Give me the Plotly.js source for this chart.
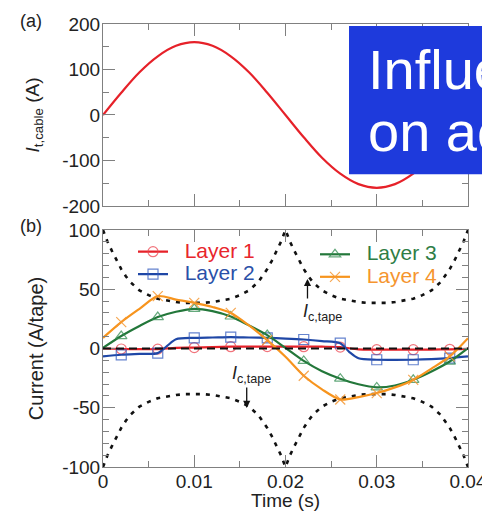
<!DOCTYPE html>
<html><head><meta charset="utf-8">
<script src="https://cdn.plot.ly/plotly-3.0.1.min.js"></script>
<style>html,body{margin:0;padding:0;background:#fff;overflow:hidden}#chart{width:482px;height:511px}</style>
</head><body><div id="chart"></div>
<script>
// ---------- data ----------
const cableTime = [0,0.002,0.004,0.006,0.008,0.01,0.012,0.014,0.016,0.018,0.02,0.022,0.024,0.026,0.028,0.03,0.032,0.034,0.036,0.038,0.04];
const cableCurrent = [0,49,94,129,152,160,152,129,94,49,0,-49,-94,-129,-152,-160,-152,-129,-94,-49,0];

const layerTime = [0,0.002,0.004,0.006,0.008,0.01,0.012,0.014,0.016,0.018,0.02,0.022,0.024,0.026,0.028,0.03,0.032,0.034,0.036,0.038,0.04];
const layer1 = [0,-0.4,-0.6,-0.5,0.6,0.8,1.2,1.5,1.6,1.6,1.6,1.5,1.5,1.2,-0.8,-1,-1,-1,-0.9,-0.7,-0.3];
const layer3 = [0.5,10.5,19,26.5,31,33.5,31.5,27,19.5,11.3,0.5,-10.5,-19.2,-25.5,-30.2,-32.8,-31.2,-26.4,-19.4,-11,0.3];
const layer4 = [9,22.3,33.5,44.2,41.3,38.5,35,30,19.5,7,-7,-23,-34.5,-43,-41,-37.6,-32.8,-26.5,-17,-6.7,8.7];
const layer2Time = [0,0.002,0.004,0.006,0.007,0.008,0.01,0.012,0.014,0.016,0.018,0.02,0.022,0.024,0.026,0.027,0.028,0.03,0.032,0.034,0.036,0.038,0.04];
const layer2 = [-6.7,-5.3,-4.6,-3.9,2,7.8,9,9.3,9.6,9.3,9,8.4,7.6,6.3,4.5,-3,-8.3,-9.5,-9.6,-9.5,-9,-8.1,-6.7];
const markerTime = [0.002,0.006,0.01,0.014,0.018,0.022,0.026,0.03,0.034,0.038];

const icTime = [0,0.0005,0.001,0.0015,0.002,0.0025,0.003,0.004,0.005,0.006,0.007,0.008,0.009,0.01,0.011,0.012,0.013,0.014,0.015,0.016,0.017,0.0175,0.018,0.0185,0.019,0.0195,0.02,
  0.0205,0.021,0.0215,0.022,0.0225,0.023,0.024,0.025,0.026,0.027,0.028,0.029,0.03,0.031,0.032,0.033,0.034,0.035,0.036,0.037,0.0375,0.038,0.0385,0.039,0.0395,0.04];
const icUpper = [100,90,82,74,67,61,56,49,45,42,40.3,39.2,38.5,38.3,38.5,39.2,40.3,42,45,49,56,61,67,74,82,90,100,
  90,82,74,67,61,56,49,45,42,40.3,39.2,38.5,38.3,38.5,39.2,40.3,42,45,49,56,61,67,74,82,90,100];
const icLower = [-100,-90,-82,-74,-67,-61,-56,-49,-45,-42,-40.3,-39.2,-38.5,-38.3,-38.5,-39.2,-40.3,-42,-45,-49,-56,-61,-67,-74,-82,-90,-100,
  -90,-82,-74,-67,-61,-56,-49,-45,-42,-40.3,-39.2,-38.5,-38.3,-38.5,-39.2,-40.3,-42,-45,-49,-56,-61,-67,-74,-82,-90,-100];

const xTickVals = [0,0.01,0.02,0.03,0.04];
const xTickText = ['0','0.01','0.02','0.03','0.04'];
const topTickVals = [-200,-100,0,100,200];
const topTickText = ['-200','-100','0','100','200'];
const botTickVals = [-100,-50,0,50,100];
const botTickText = ['-100','-50','0','50','100'];
const layerNames = ['Layer 1','Layer 2','Layer 3','Layer 4'];

// ---------- styles ----------
const FONT = 'Liberation Sans, Arial, sans-serif';
const AX = '#808080';
const TXT = '#222222';
const lineCol = ['#e62129','#1f47a6','#23773a','#f7941d'];
const markCol = ['rgba(236,70,80,0.75)','rgba(50,90,190,0.75)','rgba(50,140,80,0.75)','rgba(245,150,50,0.85)'];
const textCol = ['#e8262c','#2a50a8','#2e7d46','#f5952f'];
const symbols = ['circle-open','square-open','triangle-up-open','x-thin-open'];
const legendOf = ['legend','legend','legend2','legend2'];

function pick(ts, vs) {
  const xs = [], ys = [];
  ts.forEach((t, i) => {
    if (markerTime.some(m => Math.abs(m - t) < 1e-9)) { xs.push(t); ys.push(vs[i]); }
  });
  return {xs, ys};
}

const traces = [];
traces.push({x: cableTime, y: cableCurrent, xaxis:'x', yaxis:'y', mode:'lines',
  line:{color:'#e62129', width:2.2, shape:'spline', smoothing:1}, showlegend:false, hoverinfo:'skip'});
traces.push({x: icTime, y: icUpper, xaxis:'x2', yaxis:'y2', mode:'lines',
  line:{color:'#111', width:2.6, dash:'4px,6px'}, showlegend:false, hoverinfo:'skip'});
traces.push({x: icTime, y: icLower, xaxis:'x2', yaxis:'y2', mode:'lines',
  line:{color:'#111', width:2.6, dash:'4px,6px'}, showlegend:false, hoverinfo:'skip'});

const series = [[layerTime, layer1],[layer2Time, layer2],[layerTime, layer3],[layerTime, layer4]];
series.forEach(([ts, vs], k) => {
  traces.push({x: ts, y: vs, xaxis:'x2', yaxis:'y2', mode:'lines',
    line:{color:lineCol[k], width:2.2, shape:'spline', smoothing:0.8}, showlegend:false, hoverinfo:'skip'});
  const m = pick(ts, vs);
  traces.push({x: m.xs, y: m.ys, xaxis:'x2', yaxis:'y2', mode:'markers',
    marker:{symbol:symbols[k], size:10, color:markCol[k], line:{width:1.2, color:markCol[k]}},
    showlegend:false, hoverinfo:'skip'});
});
// legend entries
[0,1,2,3].forEach(k => {
  traces.push({x:[null], y:[null], xaxis:'x2', yaxis:'y2', mode:'lines+markers',
    name:'<span style="font-size:21px;color:' + textCol[k] + '">\u00a0\u00a0' + layerNames[k] + '</span>',
    legend: legendOf[k],
    line:{color:lineCol[k], width:2.2},
    marker:{symbol:symbols[k], size:10, color:markCol[k], line:{width:1.2, color:markCol[k]}}});
});

const baseAxis = {
  showline:true, linecolor:AX, linewidth:1, mirror:'allticks', ticks:'inside', ticklen:12,
  tickcolor:AX, tickwidth:1, showgrid:false, zeroline:false, ticklabeloverflow:'allow',
  tickfont:{family:FONT, size:19, color:TXT}, fixedrange:true
};

const layout = {
  width:482, height:511,
  margin:{l:103, r:14, t:24, b:44},
  paper_bgcolor:'#fff', plot_bgcolor:'#fff',
  font:{family:FONT, color:TXT},
  xaxis: Object.assign({}, baseAxis, {domain:[0,1], anchor:'y', range:[0,0.04],
    tickmode:'array', tickvals:xTickVals, ticktext:xTickText, showticklabels:false,
    minor:{tick0:0, dtick:0.005, ticks:'inside', ticklen:6, tickcolor:AX}}),
  yaxis: Object.assign({}, baseAxis, {domain:[0.5892,1], anchor:'x', range:[-200,200],
    tickmode:'array', tickvals:topTickVals, ticktext:topTickText, ticklabelstandoff:-2,
    minor:{tick0:0, dtick:50, ticks:'inside', ticklen:6, tickcolor:AX},
    title:{text:'<i>I</i><sub>t,cable</sub> (A)', font:{family:FONT, size:19, color:TXT}, standoff:17}}),
  xaxis2: Object.assign({}, baseAxis, {domain:[0,1], anchor:'y2', range:[0,0.04],
    tickmode:'array', tickvals:xTickVals, ticktext:xTickText, ticklabelstandoff:-3,
    minor:{tick0:0, dtick:0.005, ticks:'inside', ticklen:6, tickcolor:AX},
    title:{text:'Time (s)', font:{family:FONT, size:19, color:TXT}, standoff:11}}),
  yaxis2: Object.assign({}, baseAxis, {domain:[0,0.535], anchor:'x2', range:[-100,100],
    tickmode:'array', tickvals:botTickVals, ticktext:botTickText, ticklabelstandoff:-2,
    minor:{tick0:0, dtick:10, ticks:'inside', ticklen:6, tickcolor:AX},
    title:{text:'Current (A/tape)', font:{family:FONT, size:20, color:TXT}, standoff:13}}),
  legend:{x:0.0822, y:0.5227, xanchor:'left', yanchor:'top', bgcolor:'rgba(0,0,0,0)',
    font:{family:FONT, size:15}, borderwidth:0},
  legend2:{x:0.5808, y:0.5168, xanchor:'left', yanchor:'top', bgcolor:'rgba(0,0,0,0)',
    font:{family:FONT, size:15}, borderwidth:0},
  shapes:[
    {type:'line', xref:'x2 domain', yref:'y2', x0:0, x1:1, y0:0, y1:0,
      line:{color:'#111', width:2.2, dash:'8px,5px'}, layer:'above'},
    {type:'rect', xref:'paper', yref:'paper', x0:0.674, x1:1.2, y0:0.6607, y1:0.9955,
      fillcolor:'#1e3adc', line:{width:0}, layer:'above'}
  ],
  annotations:[
    {xref:'paper', yref:'paper', x:-0.2329, y:1.0079, xanchor:'left', yanchor:'middle',
      text:'(a)', showarrow:false, font:{family:FONT, size:18, color:TXT}},
    {xref:'paper', yref:'paper', x:-0.2329, y:0.5451, xanchor:'left', yanchor:'middle',
      text:'(b)', showarrow:false, font:{family:FONT, size:18, color:TXT}},
    {xref:'paper', yref:'paper', x:0.7205, y:0.8984, xanchor:'left', yanchor:'middle',
      text:'Influence of', showarrow:false, font:{family:FONT, size:56, color:'#ffffff'}},
    {xref:'paper', yref:'paper', x:0.7205, y:0.7571, xanchor:'left', yanchor:'middle',
      text:'on ac loss', showarrow:false, font:{family:FONT, size:56, color:'#ffffff'}},
    {xref:'x2', yref:'y2', x:0.0217, y:30.1, xanchor:'left', yanchor:'middle',
      text:'<i>I</i><sub>c,tape</sub>', showarrow:false, font:{family:FONT, size:18, color:TXT}},
    {xref:'x2', yref:'y2', x:0.0139, y:-22.3, xanchor:'left', yanchor:'middle',
      text:'<i>I</i><sub>c,tape</sub>', showarrow:false, font:{family:FONT, size:18, color:TXT}},
    {xref:'x2', yref:'y2', x:0.02241, y:58.7, ax:0, ay:21, text:'', showarrow:true,
      arrowhead:2, arrowsize:1.1, arrowwidth:1.3, arrowcolor:'#111', standoff:0},
    {xref:'x2', yref:'y2', x:0.01575, y:-50.2, ax:0, ay:-22, text:'', showarrow:true,
      arrowhead:2, arrowsize:1.1, arrowwidth:1.3, arrowcolor:'#111', standoff:0}
  ]
};

Plotly.newPlot('chart', traces, layout, {staticPlot:true, displayModeBar:false});
</script></body></html>
